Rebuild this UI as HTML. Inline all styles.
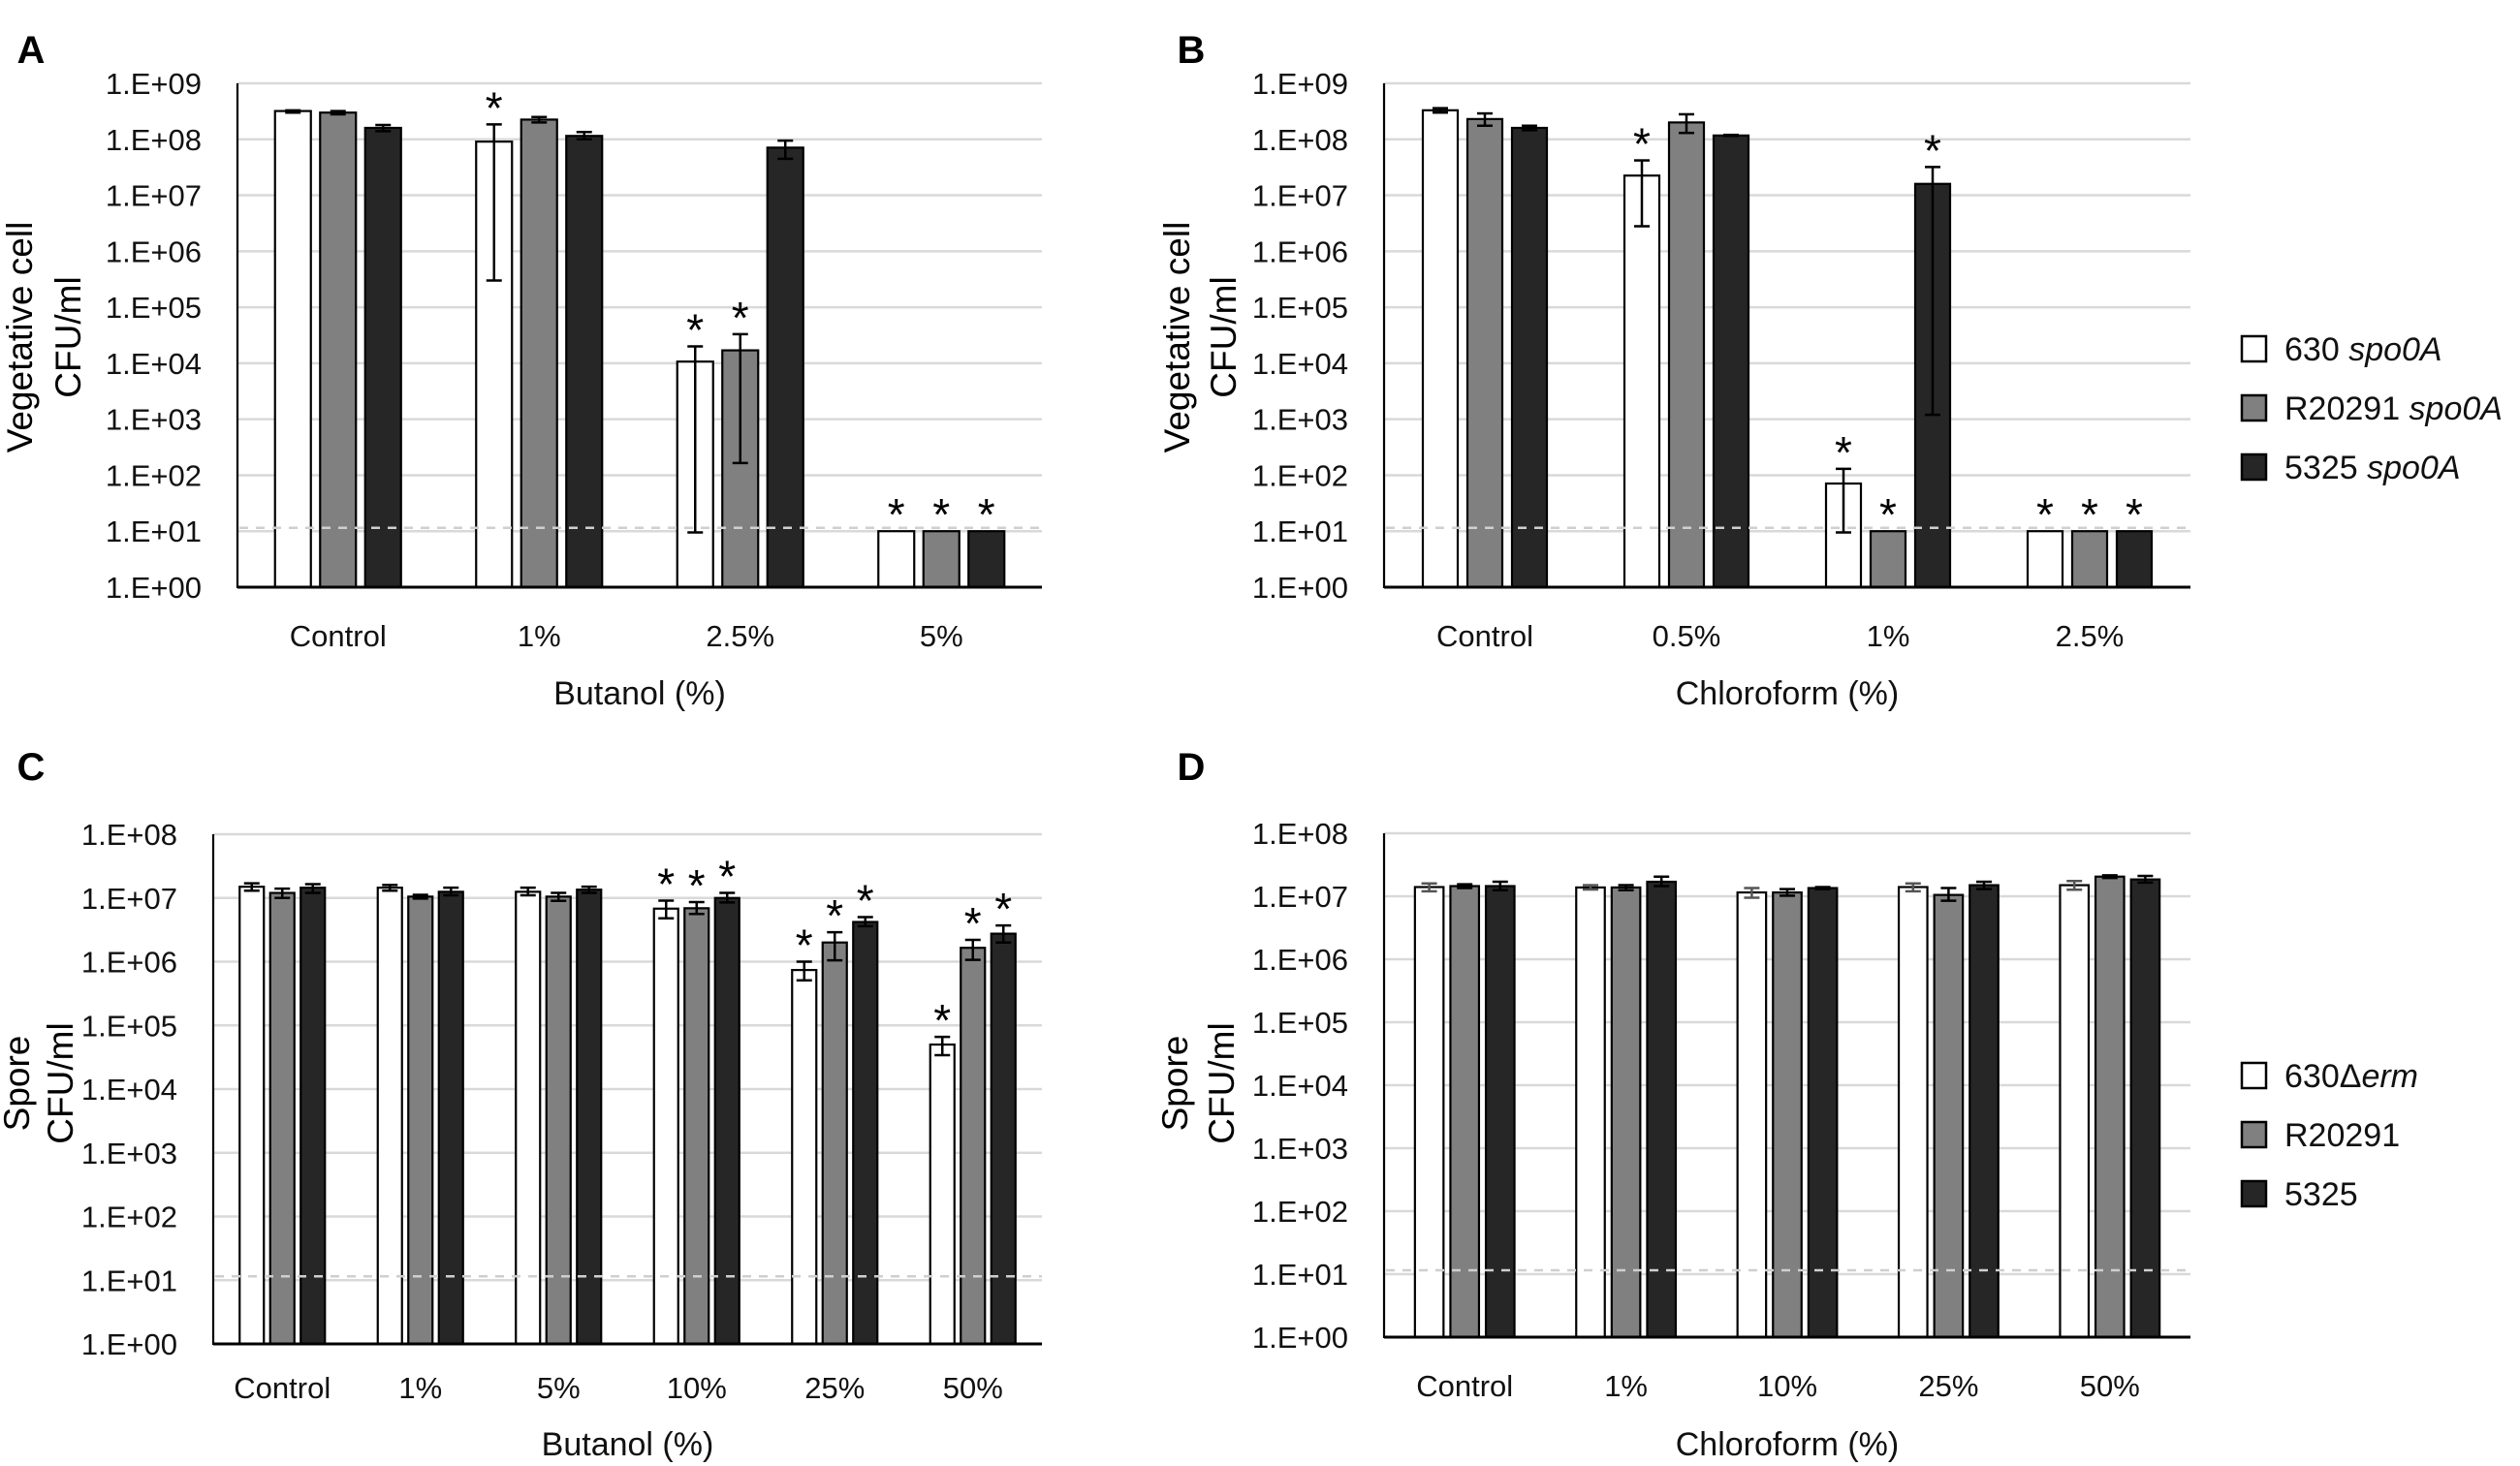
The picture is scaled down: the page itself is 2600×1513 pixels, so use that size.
<!DOCTYPE html>
<html><head><meta charset="utf-8"><style>
html,body{margin:0;padding:0;background:#fff;}
svg{display:block;font-family:"Liberation Sans",sans-serif;}
</style></head><body>
<svg id="fig" width="2600" height="1513" viewBox="0 0 2600 1513" xmlns="http://www.w3.org/2000/svg"></svg>
<script>
// ---------- Data ----------
const catsA = ["Control","1%","2.5%","5%"];
const whiteA = [3.2e8, 9.1e7, 1.07e4, 10];
const whiteA_lo = [3.0e8, 3.0e5, 9.5, 10];
const whiteA_hi = [3.3e8, 1.85e8, 2.0e4, 10];
const grayA = [3.0e8, 2.25e8, 1.7e4, 10];
const grayA_lo = [2.8e8, 2.0e8, 165, 10];
const grayA_hi = [3.2e8, 2.5e8, 3.3e4, 10];
const blackA = [1.6e8, 1.15e8, 7.1e7, 10];
const blackA_lo = [1.4e8, 1.0e8, 4.5e7, 10];
const blackA_hi = [1.8e8, 1.35e8, 9.5e7, 10];
const starsA = [[0,0,0],[1,0,0],[1,1,0],[1,1,1]];

const catsB = ["Control","0.5%","1%","2.5%"];
const whiteB = [3.3e8, 2.25e7, 71, 10];
const whiteB_lo = [3.0e8, 2.8e6, 9.5, 10];
const whiteB_hi = [3.6e8, 4.2e7, 130, 10];
const grayB = [2.3e8, 2.0e8, 10, 10];
const grayB_lo = [1.75e8, 1.3e8, 10, 10];
const grayB_hi = [2.9e8, 2.8e8, 10, 10];
const blackB = [1.6e8, 1.17e8, 1.6e7, 10];
const blackB_lo = [1.45e8, 1.15e8, 1.2e3, 10];
const blackB_hi = [1.75e8, 1.2e8, 3.2e7, 10];
const starsB = [[0,0,0],[1,0,0],[1,1,1],[1,1,1]];

const catsC = ["Control","1%","5%","10%","25%","50%"];
const whiteC = [1.5e7, 1.45e7, 1.25e7, 6.8e6, 7.4e5, 5.0e4];
const whiteC_lo = [1.3e7, 1.3e7, 1.1e7, 4.8e6, 5.1e5, 3.4e4];
const whiteC_hi = [1.7e7, 1.6e7, 1.45e7, 9.1e6, 1.0e6, 6.6e4];
const grayC = [1.2e7, 1.05e7, 1.05e7, 6.9e6, 2.0e6, 1.65e6];
const grayC_lo = [1.0e7, 9.8e6, 9.0e6, 5.6e6, 1.05e6, 1.07e6];
const grayC_hi = [1.4e7, 1.12e7, 1.2e7, 8.6e6, 2.9e6, 2.2e6];
const blackC = [1.45e7, 1.25e7, 1.35e7, 1.0e7, 4.2e6, 2.75e6];
const blackC_lo = [1.2e7, 1.1e7, 1.2e7, 8.5e6, 3.6e6, 2.0e6];
const blackC_hi = [1.65e7, 1.45e7, 1.5e7, 1.2e7, 5.0e6, 3.7e6];
const starsC = [[0,0,0],[0,0,0],[0,0,0],[1,1,1],[1,1,1],[1,1,1]];

const catsD = ["Control","1%","10%","25%","50%"];
const whiteD = [1.4e7, 1.38e7, 1.15e7, 1.4e7, 1.5e7];
const whiteD_lo = [1.2e7, 1.28e7, 9.5e6, 1.2e7, 1.27e7];
const whiteD_hi = [1.6e7, 1.5e7, 1.35e7, 1.6e7, 1.75e7];
const grayD = [1.45e7, 1.38e7, 1.15e7, 1.05e7, 2.05e7];
const grayD_lo = [1.35e7, 1.25e7, 1.02e7, 8.5e6, 1.95e7];
const grayD_hi = [1.55e7, 1.5e7, 1.3e7, 1.35e7, 2.15e7];
const blackD = [1.45e7, 1.7e7, 1.35e7, 1.5e7, 1.85e7];
const blackD_lo = [1.25e7, 1.45e7, 1.3e7, 1.3e7, 1.65e7];
const blackD_hi = [1.7e7, 2.05e7, 1.4e7, 1.7e7, 2.1e7];
const starsD = [[0,0,0],[0,0,0],[0,0,0],[0,0,0],[0,0,0]];

const ticksAB = ["1.E+00","1.E+01","1.E+02","1.E+03","1.E+04","1.E+05","1.E+06","1.E+07","1.E+08","1.E+09"];
const ticksCD = ["1.E+00","1.E+01","1.E+02","1.E+03","1.E+04","1.E+05","1.E+06","1.E+07","1.E+08"];
const legendTop = [["630 ","spo0A"],["R20291 ","spo0A"],["5325 ","spo0A"]];
const legendBottom = [["630Δ","erm"],["R20291",""],["5325",""]];

// ---------- Drawing ----------
const NS = "http://www.w3.org/2000/svg";
const svg = document.getElementById("fig");
const FILLS = ["#ffffff","#808080","#262626"];
function mk(tag, attrs, parent){
  const e = document.createElementNS(NS, tag);
  for (const k in attrs) e.setAttribute(k, attrs[k]);
  (parent||svg).appendChild(e);
  return e;
}

function panel(o){
  const g = mk("g", {});
  
  
  const nDec = o.ticks.length - 1;
  const dec = (o.y0 - o.y1) / nDec;
  const yScale = v => o.y0 - Math.log10(v) * dec;
  const slot = (o.x1 - o.x0) / o.cats.length;
  const xCenter = i => o.x0 + slot * (i + 0.5);

  // letter
  const L = mk("text", {x:o.lx, y:o.ly, "font-size":40, "font-weight":"bold", "text-anchor":"middle"}, g);
  L.textContent = o.letter;
  
  

  // gridlines + ticks
  const grid = mk("g", {}, g);
  
  
  const tl = mk("g", {}, g);
  
  
  o.ticks.forEach((t, i) => {
    const y = o.y0 - i * dec;
    if (i > 0) mk("line", {x1:o.x0, x2:o.x1, y1:y, y2:y, stroke:"#d9d9d9", "stroke-width":2.5}, grid);
    const tx = mk("text", {x:o.x0 - 37, y:y + 11, "font-size":31, "text-anchor":"end", fill:"#111"}, tl);
    tx.textContent = t;
  });

  // bars
  const series = [o.w, o.g, o.b];
  const los = [o.wl, o.gl, o.bl];
  const his = [o.wh, o.gh, o.bh];
  const bars = mk("g", {}, g);
  
  
  o.cats.forEach((c, i) => {
    for (let s = 0; s < 3; s++) {
      const cx = xCenter(i) + (s - 1) * o.step;
      const top = yScale(series[s][i]);
      const r = mk("rect", {x:cx - o.bw/2, y:top, width:o.bw, height:o.y0 - top, fill:FILLS[s], stroke:"#000", "stroke-width":2.2}, bars);
      
      
    }
  });
  // limit of detection dashed line
  const dl = mk("line", {x1:o.x0+2, x2:o.x1, y1:yScale(11.5), y2:yScale(11.5), stroke:"#cfcfcf", "stroke-width":2.5, "stroke-dasharray":"9 8"}, g);
  
  
  // error bars + stars
  const eb = mk("g", {}, g);
  
  
  o.cats.forEach((c, i) => {
    for (let s = 0; s < 3; s++) {
      const cx = xCenter(i) + (s - 1) * o.step;
      const hi = yScale(his[s][i]), lo = yScale(los[s][i]);
      const col = (s === 1 ? "#000" : (s === 0 && o.grayErr ? "#555" : "#000"));
      if (Math.abs(lo - hi) > 0.5) {
        mk("line", {x1:cx, x2:cx, y1:hi, y2:lo, stroke:col, "stroke-width":2.5}, eb);
        mk("line", {x1:cx-8, x2:cx+8, y1:hi, y2:hi, stroke:col, "stroke-width":2.5}, eb);
        mk("line", {x1:cx-8, x2:cx+8, y1:lo, y2:lo, stroke:col, "stroke-width":2.5}, eb);
      }
      if (o.stars[i][s]) {
        const top = Math.min(hi, yScale(series[s][i]));
        const st = mk("text", {x:cx, y:top - 1, "font-size":46, "text-anchor":"middle"}, eb);
        st.textContent = "*";
        
        
      }
    }
  });
  // axes
  mk("line", {x1:o.x0, x2:o.x0, y1:o.y1, y2:o.y0+1, stroke:"#000", "stroke-width":2.2}, g);
  const xa = mk("line", {x1:o.x0, x2:o.x1, y1:o.y0, y2:o.y0, stroke:"#000", "stroke-width":3}, g);
  
  
  // category labels
  const cl = mk("g", {}, g);
  
  
  o.cats.forEach((c, i) => {
    const t = mk("text", {x:xCenter(i), y:o.catY + 11, "font-size":31, "text-anchor":"middle", fill:"#111"}, cl);
    t.textContent = c;
  });
  const xt = mk("text", {x:(o.x0 + o.x1)/2, y:o.titY + 12, "font-size":34, "text-anchor":"middle", fill:"#111"}, g);
  xt.textContent = o.xTitle;
  
  
  // y title
  const yt = mk("g", {}, g);
  
  
  o.yTitle.forEach((line, k) => {
    const x = o.ytx[k];
    const t = mk("text", {x:x, y:o.yty, "font-size":37, "text-anchor":"middle", transform:"rotate(-90 " + x + " " + o.yty + ")", dy:13}, yt);
    t.textContent = line;
  });
}

function legend(entries, x, ys, name){
  const g = mk("g", {});
  
  
  entries.forEach((e, i) => {
    const row = mk("g", {}, g);
    
    
    mk("rect", {x:x, y:ys[i]-13, width:25, height:26, fill:FILLS[i], stroke:"#000", "stroke-width":2.5}, row);
    const t = mk("text", {x:x+44, y:ys[i]+12, "font-size":34, fill:"#111"}, row);
    const a = mk("tspan", {}, t); a.textContent = e[0];
    if (e[1]) { const b = mk("tspan", {"font-style":"italic"}, t); b.textContent = e[1]; }
  });
}

panel({letter:"A", lx:32, ly:65, x0:245, x1:1075, y0:606, y1:86, ticks:ticksAB, cats:catsA,
  w:whiteA, wl:whiteA_lo, wh:whiteA_hi, g:grayA, gl:grayA_lo, gh:grayA_hi, b:blackA, bl:blackA_lo, bh:blackA_hi,
  stars:starsA, bw:37, step:46.5, catY:656, titY:715, xTitle:"Butanol (%)", yTitle:["Vegetative cell","CFU/ml"], ytx:[20,70], yty:348});
panel({letter:"B", lx:1229, ly:65, x0:1428, x1:2260, y0:606, y1:86, ticks:ticksAB, cats:catsB,
  w:whiteB, wl:whiteB_lo, wh:whiteB_hi, g:grayB, gl:grayB_lo, gh:grayB_hi, b:blackB, bl:blackB_lo, bh:blackB_hi,
  stars:starsB, bw:36, step:46, catY:656, titY:715, xTitle:"Chloroform (%)", yTitle:["Vegetative cell","CFU/ml"], ytx:[1214,1262], yty:348});
panel({letter:"C", lx:32, ly:805, x0:220, x1:1075, y0:1387, y1:861, ticks:ticksCD, cats:catsC,
  w:whiteC, wl:whiteC_lo, wh:whiteC_hi, g:grayC, gl:grayC_lo, gh:grayC_hi, b:blackC, bl:blackC_lo, bh:blackC_hi,
  stars:starsC, bw:25, step:31.5, catY:1432, titY:1490, xTitle:"Butanol (%)", yTitle:["Spore","CFU/ml"], ytx:[17,62], yty:1118});
panel({letter:"D", lx:1229, ly:805, x0:1428, x1:2260, y0:1380, y1:860, ticks:ticksCD, cats:catsD, grayErr:true,
  w:whiteD, wl:whiteD_lo, wh:whiteD_hi, g:grayD, gl:grayD_lo, gh:grayD_hi, b:blackD, bl:blackD_lo, bh:blackD_hi,
  stars:starsD, bw:29.5, step:36.6, catY:1430, titY:1490, xTitle:"Chloroform (%)", yTitle:["Spore","CFU/ml"], ytx:[1212,1260], yty:1118});
legend(legendTop, 2313, [360, 421, 482], "legend-top");
legend(legendBottom, 2313, [1110, 1171, 1232], "legend-bottom");
</script>
</body></html>
